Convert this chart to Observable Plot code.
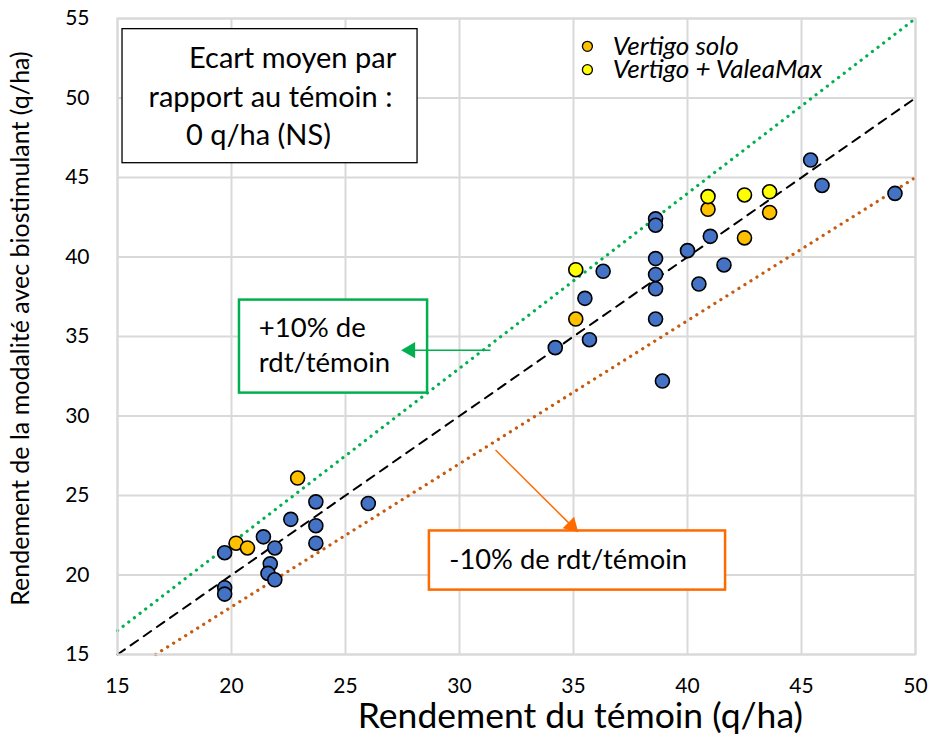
<!DOCTYPE html>
<html>
<head>
<meta charset="utf-8">
<script src="https://cdn.jsdelivr.net/npm/d3@7"></script>
<script src="https://cdn.jsdelivr.net/npm/@observablehq/plot@0.6"></script>
<style>
  html, body { margin: 0; padding: 0; background: #fff; }
  svg { display: block; }
</style>
</head>
<body>
<div id="chart"></div>
<script>
// Data
const blueX = [19.7, 19.7, 19.7, 21.4, 21.9, 21.7, 21.6, 21.9, 22.6, 23.7, 23.7, 23.7, 26.0,
               34.2, 35.7, 35.5, 36.3, 38.6, 38.6, 38.6, 38.6, 38.6, 38.6, 38.9, 40.0, 41.0, 40.5, 41.6, 45.4, 45.9, 49.1];
const blueY = [21.4, 19.2, 18.8, 22.4, 21.7, 20.7, 20.1, 19.7, 23.5, 24.6, 23.1, 22.0, 24.5,
               34.3, 34.8, 37.4, 39.1, 42.4, 42.0, 39.9, 38.9, 38.0, 36.1, 32.2, 40.4, 41.3, 38.3, 39.5, 46.1, 44.5, 44.0];
const soloX = [20.2, 20.7, 22.9, 35.1, 40.9, 42.5, 43.6];
const soloY = [22.0, 21.7, 26.1, 36.1, 43.0, 41.2, 42.8];
const valeaX = [35.1, 40.9, 42.5, 43.6];
const valeaY = [39.2, 43.8, 43.9, 44.1];
const refX = [15, 50];         // y = x
const refY = [15, 50];
const plusX = [15, 50];        // +10 %
const plusY = [16.5, 55];
const minusX = [16.67, 50];    // -10 %
const minusY = [15, 45];
const xTicks = [15, 20, 25, 30, 35, 40, 45, 50];
const yTicks = [15, 20, 25, 30, 35, 40, 45, 50, 55];
const legendLabels = ["Vertigo solo", "Vertigo + ValeaMax"];
const boxLines = ["Ecart moyen par", "rapport au témoin :", "0 q/ha (NS)"];
const plusLines = ["+10% de", "rdt/témoin"];
const minusLabel = "-10% de rdt/témoin";
const xTitle = "Rendement du témoin (q/ha)";
const yTitle = "Rendement de la modalité avec biostimulant (q/ha)";

const toPts = (xs, ys) => xs.map((x, i) => ({x, y: ys[i]}));
const blue = toPts(blueX, blueY);
const solo = toPts(soloX, soloY);
const valea = toPts(valeaX, valeaY);

const FONT = "Lato, 'Open Sans', sans-serif";
const BLUE = "#4472c4", ORANGE = "#ffc000", YELLOW = "#ffff00";
const GREEN = "#00b050", BOXORANGE = "#ff6a00", DOTORANGE = "#c55a11";

const chart = Plot.plot({
  width: 930,
  height: 744,
  marginLeft: 117,
  marginRight: 15,
  marginTop: 18,
  marginBottom: 90,
  style: {fontFamily: FONT, background: "#fff"},
  x: {domain: [15, 50], ticks: xTicks},
  y: {domain: [15, 55], ticks: yTicks},
  marks: [
    Plot.gridX(xTicks, {stroke: "#d9d9d9", strokeOpacity: 1, strokeWidth: 2}),
    Plot.gridY(yTicks, {stroke: "#d9d9d9", strokeOpacity: 1, strokeWidth: 2}),
    Plot.axisX({ticks: xTicks, tickSize: 0, tickPadding: 24, fontSize: 21, color: "#000", label: null}),
    Plot.axisY({ticks: yTicks, tickSize: 0, tickPadding: 28, fontSize: 21, color: "#000", label: null}),
    Plot.text([xTitle], {x: 35.3, frameAnchor: "bottom", dy: 73, fontSize: 35.5, fill: "#000"}),
    Plot.text([yTitle], {frameAnchor: "left", textAnchor: "middle", rotate: -90, dx: -97, dy: -8, fontSize: 25, fill: "#000"}),
    // reference lines
    Plot.line(toPts(plusX, plusY), {x: "x", y: "y", stroke: GREEN, strokeWidth: 3.2, strokeDasharray: "0.1,7", strokeLinecap: "round"}),
    Plot.line(toPts(minusX, minusY), {x: "x", y: "y", stroke: DOTORANGE, strokeWidth: 3.2, strokeDasharray: "0.1,7", strokeLinecap: "round"}),
    Plot.line(toPts(refX, refY), {x: "x", y: "y", stroke: "#000", strokeWidth: 2, strokeDasharray: "9,7"}),
    // points
    Plot.dot(blue, {x: "x", y: "y", r: 7, fill: BLUE, stroke: "#000", strokeWidth: 1.6}),
    Plot.dot(solo, {x: "x", y: "y", r: 7, fill: ORANGE, stroke: "#000", strokeWidth: 1.6}),
    Plot.dot(valea, {x: "x", y: "y", r: 7, fill: YELLOW, stroke: "#000", strokeWidth: 1.6}),
    // legend
    Plot.dot([0, 1], {x: [35.61, 35.61], y: [53.25, 51.78], r: 5, fill: [ORANGE, YELLOW], stroke: "#000", strokeWidth: 1.3}),
    Plot.text(legendLabels, {x: [36.72, 36.72], y: [53.25, 51.78], text: d => d, textAnchor: "start", fontSize: 26, fontStyle: "italic", fill: "#000"}),
    // box 1
    Plot.rect([0], {x1: 15.22, x2: 28.16, y1: 45.9, y2: 54.33, fill: "#fff", stroke: "#000", strokeWidth: 1.3}),
    Plot.text(boxLines, {x: [22.68, 21.71, 21.18], y: [52.45, 50.0, 47.6], text: d => d, fontSize: 29, fill: "#000"}),
    // +10% box
    Plot.rect([0], {x1: 20.35, x2: 28.6, y1: 31.44, y2: 37.29, fill: "#fff", stroke: GREEN, strokeWidth: 2.5}),
    Plot.text(plusLines, {x: [21.2, 21.2], y: [35.55, 33.3], text: d => d, textAnchor: "start", fontSize: 27.5, fill: "#000"}),
    Plot.link([0], {x1: 31.36, y1: 34.14, x2: 27.9, y2: 34.14, stroke: GREEN, strokeWidth: 1.5}),
    Plot.dot([0], {x: 27.85, y: 34.14, symbol: "triangle", r: 6, rotate: -90, fill: GREEN, stroke: "none"}),
    // -10% box
    Plot.rect([0], {x1: 28.68, x2: 41.67, y1: 19.05, y2: 22.77, fill: "#fff", stroke: BOXORANGE, strokeWidth: 2.5}),
    Plot.text([minusLabel], {x: 29.55, y: 20.93, textAnchor: "start", fontSize: 27.3, fill: "#000"}),
    Plot.link([0], {x1: 31.58, y1: 27.86, x2: 34.9, y2: 23.12, stroke: BOXORANGE, strokeWidth: 1.5}),
    Plot.dot([0], {x: 34.92, y: 23.1, symbol: "triangle", r: 6, rotate: 135, fill: BOXORANGE, stroke: "none"}),
    Plot.frame({stroke: "#d9d9d9", strokeWidth: 2})
  ]
});
document.getElementById("chart").appendChild(chart);
</script>
</body>
</html>
